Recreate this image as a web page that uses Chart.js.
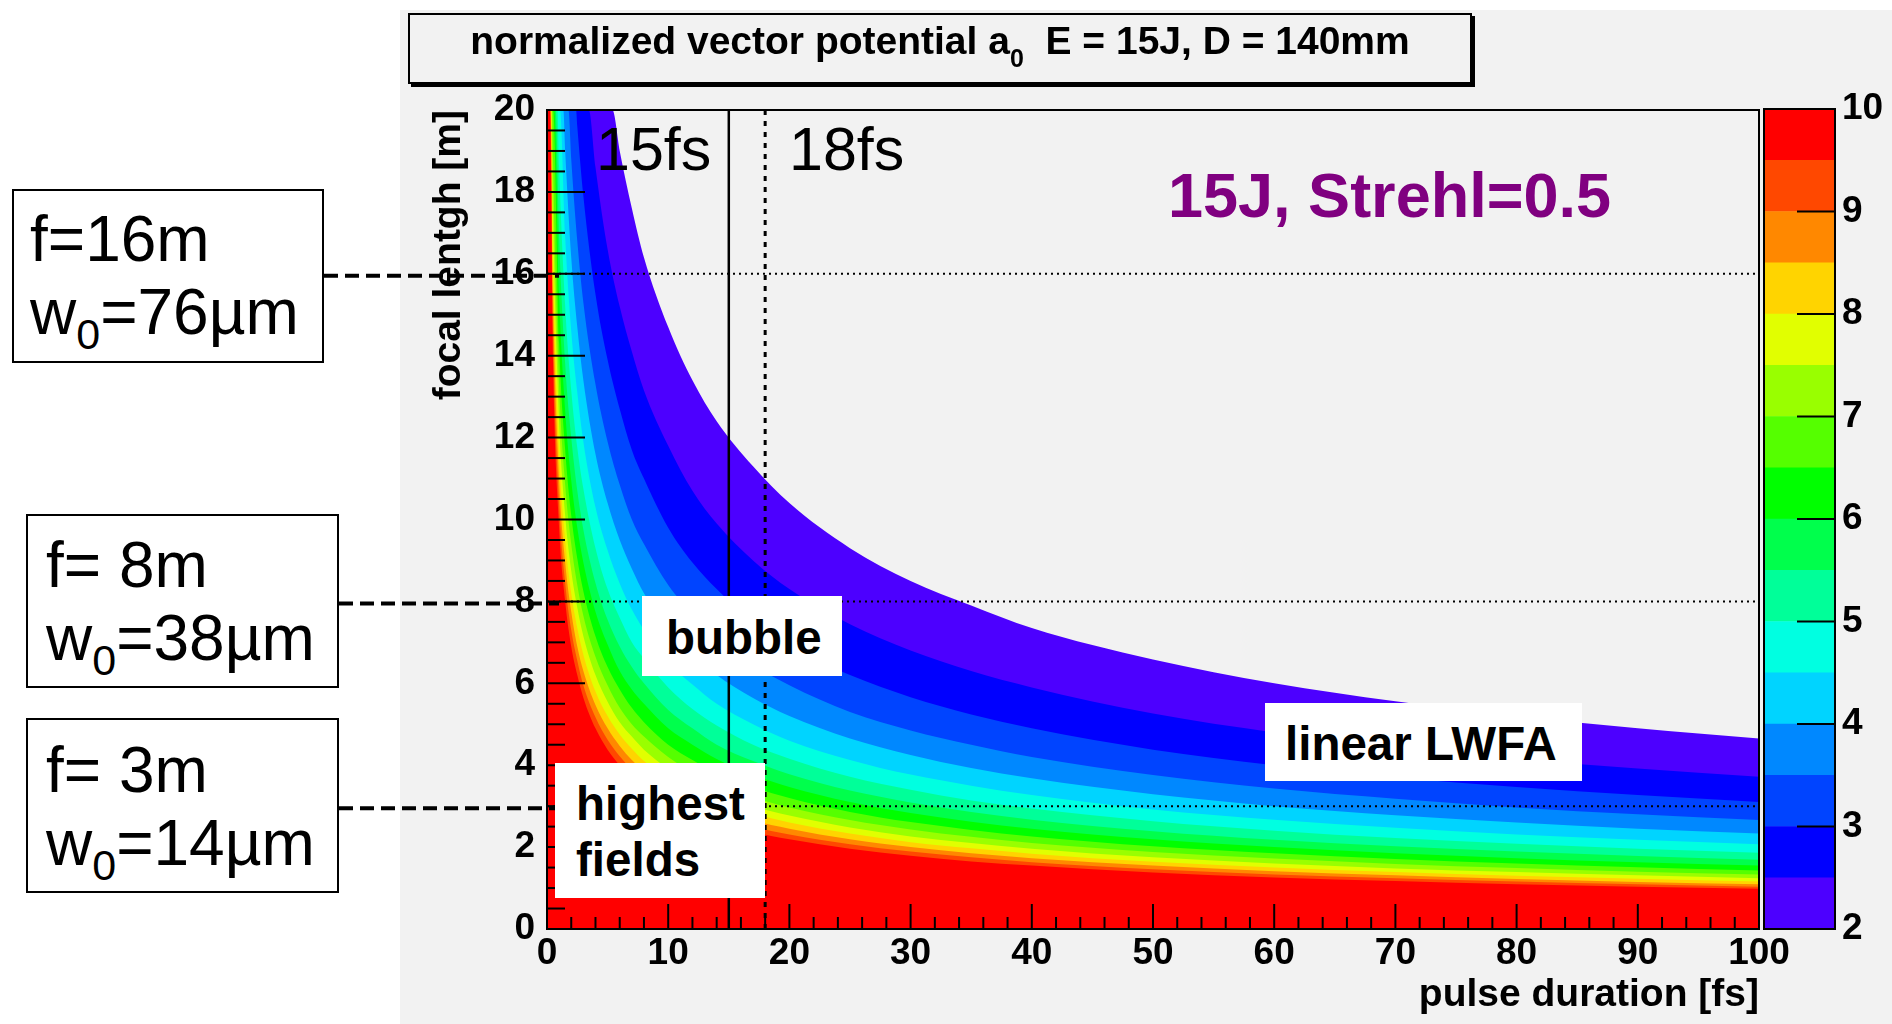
<!DOCTYPE html>
<html>
<head>
<meta charset="utf-8">
<script src="https://cdn.jsdelivr.net/npm/chart.js@4.4.1/dist/chart.umd.min.js"></script>
<style>
html,body{margin:0;padding:0;background:#fff;}
body{width:1892px;height:1024px;position:relative;overflow:hidden;font-family:"Liberation Sans",Arial,sans-serif;}
#pad{position:absolute;left:400px;top:10px;right:0;bottom:0;background:#f2f2f2;}
canvas{position:absolute;top:0;}
#main{left:0;}
#bar{left:1700px;}
.t{position:absolute;line-height:1;white-space:nowrap;color:#000;}
.box{position:absolute;border:2px solid #000;background:#fff;box-sizing:border-box;}
.wb{position:absolute;background:#fff;}
.note{font-size:64px;}
.note sub{font-size:43px;vertical-align:-15px;line-height:0;}
.lbl{font-size:47.5px;font-weight:bold;}
</style>
</head>
<body>
<div id="pad"></div>
<canvas id="main" width="1892" height="1024"></canvas>
<canvas id="bar" width="192" height="1024"></canvas>

<!-- title pave -->
<div class="box" style="left:408px;top:13px;width:1064px;height:71px;background:#f2f2f2;box-shadow:3px 3px 0 #000;"></div>
<div class="t" style="left:408px;width:1064px;top:21px;text-align:center;font-size:39px;font-weight:bold;">normalized vector potential a<sub style="font-size:25px;vertical-align:-13px;line-height:0;">0</sub>&nbsp; E = 15J, D = 140mm</div>

<!-- focal length notes -->
<div class="box" style="left:12px;top:189px;width:312px;height:174px;"></div>
<div class="t note" style="left:30px;top:207px;">f=16m</div>
<div class="t note" style="left:30px;top:280px;">w<sub>0</sub>=76µm</div>

<div class="box" style="left:26px;top:514px;width:313px;height:174px;"></div>
<div class="t note" style="left:46px;top:533px;">f= 8m</div>
<div class="t note" style="left:46px;top:606px;">w<sub>0</sub>=38µm</div>

<div class="box" style="left:26px;top:718px;width:313px;height:175px;"></div>
<div class="t note" style="left:46px;top:738px;">f= 3m</div>
<div class="t note" style="left:46px;top:811px;">w<sub>0</sub>=14µm</div>

<!-- labels inside the frame -->
<div class="t" style="left:596px;top:119px;font-size:61px;">15fs</div>
<div class="t" style="left:789px;top:119px;font-size:61px;">18fs</div>
<div class="t" style="left:1168px;top:164px;font-size:63px;font-weight:bold;color:#800080;">15J, Strehl=0.5</div>

<div class="wb" style="left:642px;top:596px;width:200px;height:80px;"></div>
<div class="t lbl" style="left:666px;top:614px;">bubble</div>

<div class="wb" style="left:555px;top:763px;width:210px;height:135px;"></div>
<div class="t lbl" style="left:576px;top:780px;">highest</div>
<div class="t lbl" style="left:576px;top:836px;">fields</div>

<div class="wb" style="left:1265px;top:703px;width:317px;height:78px;"></div>
<div class="t lbl" style="left:1285px;top:720px;">linear LWFA</div>

<script>
// pulse duration grid [fs]
const tau = [0.5, 1, 1.5, 2, 2.5, 3, 4, 5, 6, 7, 8, 10, 12, 14, 17, 20, 25, 30, 35, 40, 50, 60, 70, 80, 90, 100];

// contour levels of a0 (band edges)
const levels = [2, 2.5, 3, 3.5, 4, 4.5, 5, 5.5, 6, 6.5, 7, 7.5, 8, 8.5, 9, 9.5, 10];
const bandColors = ['#4c00ff','#0000ff','#0044ff','#0088ff','#00d4ff','#00ffe1','#00ff99','#00ff4c',
                    '#00ff00','#55ff00','#99ff00','#e1ff00','#ffd400','#ff8800','#ff4800','#ff0000'];

// where each contour leaves the top of the frame (f = 20 m)
const topTau = [5.4, 3.45, 2.4, 1.77, 1.35, 1.07, 0.86, 0.71, 0.6, 0.51, 0.44, 0.38, 0.34, 0.3, 0.27, 0.24];

// focal length [m] of each contour at the tau grid (null = above the frame)
const a0_2_0 = [null,null,null,null,null,null,null,null,19.0,17.6,16.4,14.7,13.4,12.4,11.3,10.4,9.3,8.5,7.9,7.35,6.58,6.0,5.56,5.2,4.9,4.65];
const a0_2_5 = [null,null,null,null,null,null,18.6,16.6,15.2,14.1,13.15,11.8,10.7,9.9,9.0,8.3,7.44,6.8,6.3,5.9,5.26,4.8,4.45,4.16,3.92,3.72];
const a0_3_0 = [null,null,null,null,19.6,17.9,15.5,13.9,12.7,11.7,11.0,9.8,8.95,8.3,7.5,6.9,6.2,5.66,5.24,4.9,4.38,4.0,3.7,3.47,3.27,3.1];
const a0_3_5 = [null,null,null,18.8,16.8,15.3,13.3,11.9,10.85,10.0,9.4,8.4,7.7,7.1,6.45,5.95,5.3,4.85,4.5,4.2,3.76,3.43,3.18,2.97,2.8,2.66];
const a0_4_0 = [null,null,19.0,16.4,14.7,13.4,11.6,10.4,9.5,8.8,8.2,7.35,6.7,6.2,5.64,5.2,4.65,4.25,3.93,3.68,3.29,3.0,2.78,2.6,2.45,2.33];
const a0_4_5 = [null,null,16.9,14.6,13.1,11.9,10.3,9.25,8.44,7.8,7.3,6.5,5.97,5.5,5.0,4.6,4.13,3.77,3.5,3.27,2.92,2.67,2.47,2.31,2.18,2.07];
const a0_5_0 = [null,18.6,15.2,13.15,11.75,10.75,9.3,8.3,7.6,7.0,6.6,5.9,5.37,4.97,4.5,4.16,3.72,3.4,3.14,2.94,2.63,2.4,2.22,2.08,1.96,1.86];
const a0_5_5 = [null,16.9,13.8,12.0,10.7,9.75,8.45,7.55,6.9,6.4,6.0,5.35,4.9,4.5,4.1,3.78,3.38,3.09,2.86,2.67,2.39,2.18,2.02,1.89,1.78,1.69];
const a0_6_0 = [null,15.5,12.65,10.95,9.8,8.95,7.75,6.95,6.3,5.85,5.5,4.9,4.5,4.15,3.76,3.47,3.1,2.83,2.62,2.45,2.19,2.0,1.85,1.73,1.63,1.55];
const a0_6_5 = [null,14.3,11.7,10.1,9.05,8.25,7.15,6.4,5.85,5.4,5.05,4.5,4.13,3.82,3.47,3.2,2.86,2.61,2.42,2.26,2.02,1.85,1.71,1.6,1.51,1.43];
const a0_7_0 = [18.8,13.3,10.85,9.4,8.4,7.65,6.65,5.95,5.4,5.0,4.7,4.2,3.83,3.55,3.22,2.97,2.66,2.43,2.25,2.1,1.88,1.72,1.59,1.49,1.4,1.33];
const a0_7_5 = [17.5,12.4,10.1,8.75,7.85,7.15,6.2,5.55,5.05,4.7,4.38,3.92,3.58,3.31,3.0,2.77,2.48,2.26,2.1,1.96,1.75,1.6,1.48,1.39,1.31,1.24];
const a0_8_0 = [16.4,11.6,9.5,8.2,7.35,6.7,5.8,5.2,4.75,4.4,4.1,3.68,3.36,3.1,2.82,2.6,2.33,2.12,1.97,1.84,1.64,1.5,1.39,1.3,1.23,1.16];
const a0_8_5 = [15.5,10.95,8.95,7.75,6.9,6.3,5.47,4.9,4.47,4.13,3.87,3.46,3.16,2.92,2.65,2.45,2.19,2.0,1.85,1.73,1.55,1.41,1.31,1.22,1.15,1.09];
const a0_9_0 = [14.6,10.35,8.45,7.3,6.55,5.95,5.17,4.62,4.22,3.9,3.65,3.27,2.98,2.76,2.5,2.31,2.07,1.89,1.75,1.63,1.46,1.33,1.24,1.16,1.09,1.03];
const a0_9_5 = [13.85,9.8,8.0,6.9,6.2,5.65,4.9,4.38,4.0,3.7,3.46,3.1,2.83,2.62,2.37,2.19,1.96,1.79,1.65,1.55,1.38,1.26,1.17,1.09,1.03,0.98];

const tauTicks = [0, 10, 20, 30, 40, 50, 60, 70, 80, 90, 100];
const fTicks = [0, 2, 4, 6, 8, 10, 12, 14, 16, 18, 20];
const barTicks = [2, 3, 4, 5, 6, 7, 8, 9, 10];

// marker lines
const markF = [16, 8, 3];
const markTau = [15, 18];
const noteRight = [324, 339, 339];

Chart.defaults.font.family = '"Liberation Sans", Arial, sans-serif';
Chart.defaults.color = '#000';

const curves = [a0_2_0, a0_2_5, a0_3_0, a0_3_5, a0_4_0, a0_4_5, a0_5_0, a0_5_5,
                a0_6_0, a0_6_5, a0_7_0, a0_7_5, a0_8_0, a0_8_5, a0_9_0, a0_9_5];

const datasets = curves.map((fv, i) => {
  const pts = [{x: 0, y: 20}, {x: topTau[i], y: 20}];
  tau.forEach((t, j) => { if (fv[j] !== null) pts.push({x: t, y: fv[j]}); });
  return {
    label: 'a0 > ' + levels[i],
    data: pts,
    backgroundColor: bandColors[i],
    borderColor: 'rgba(0,0,0,0)',
    borderWidth: 0,
    pointRadius: 0,
    fill: 'origin',
    cubicInterpolationMode: 'monotone',
    order: curves.length - i
  };
});

const lines = {
  id: 'lines',
  afterDatasetsDraw(chart) {
    const {ctx, chartArea: a, scales: {x, y}} = chart;
    ctx.save();
    ctx.strokeStyle = '#000';
    // dotted horizontal guides
    ctx.lineWidth = 2;
    ctx.setLineDash([2, 4]);
    markF.forEach(v => {
      const py = y.getPixelForValue(v);
      ctx.beginPath(); ctx.moveTo(a.left, py); ctx.lineTo(a.right, py); ctx.stroke();
    });
    // 15 fs solid, 18 fs dotted
    let px = x.getPixelForValue(markTau[0]);
    ctx.setLineDash([]);
    ctx.lineWidth = 2.5;
    ctx.beginPath(); ctx.moveTo(px, a.top); ctx.lineTo(px, a.bottom); ctx.stroke();
    px = x.getPixelForValue(markTau[1]);
    ctx.lineWidth = 3;
    ctx.setLineDash([5, 6]);
    ctx.beginPath(); ctx.moveTo(px, a.top); ctx.lineTo(px, a.bottom); ctx.stroke();
    ctx.setLineDash([]);
    // inward ticks
    ctx.lineWidth = 2;
    for (let v = 0; v <= 100; v += 2) {
      const p = x.getPixelForValue(v);
      const len = v % 10 === 0 ? 25 : 12;
      ctx.beginPath(); ctx.moveTo(p, a.bottom); ctx.lineTo(p, a.bottom - len); ctx.stroke();
    }
    for (let v = 0; v <= 20; v += 0.5) {
      const p = y.getPixelForValue(v);
      const len = v % 2 === 0 ? 38 : 18;
      ctx.beginPath(); ctx.moveTo(a.left, p); ctx.lineTo(a.left + len, p); ctx.stroke();
    }
    // frame
    ctx.strokeRect(a.left, a.top, a.right - a.left, a.bottom - a.top);
    ctx.restore();
  },
  afterDraw(chart) {
    const {ctx, chartArea: a, scales: {y}} = chart;
    ctx.save();
    ctx.strokeStyle = '#000';
    ctx.lineWidth = 4;
    ctx.setLineDash([14, 7]);
    markF.forEach((v, i) => {
      const py = y.getPixelForValue(v) + 2;
      ctx.beginPath(); ctx.moveTo(noteRight[i], py); ctx.lineTo(a.left + 12, py); ctx.stroke();
    });
    ctx.restore();
  }
};

new Chart(document.getElementById('main'), {
  type: 'line',
  data: {datasets: datasets},
  options: {
    responsive: false,
    animation: false,
    events: [],
    layout: {padding: {left: 397, right: 133, top: 110, bottom: 0}},
    plugins: {legend: {display: false}, tooltip: {enabled: false}},
    scales: {
      x: {
        type: 'linear', min: 0, max: 100,
        afterFit: s => { s.height = 95; },
        afterBuildTicks: s => { s.ticks = tauTicks.map(v => ({value: v})); },
        grid: {display: false, drawTicks: false},
        border: {display: false},
        ticks: {autoSkip: false, maxRotation: 0, padding: 3, font: {size: 37, weight: 'bold'}},
        title: {display: true, text: 'pulse duration [fs]', align: 'end', padding: {top: 0, bottom: 5},
                font: {size: 39, weight: 'bold'}}
      },
      y: {
        type: 'linear', min: 0, max: 20,
        afterFit: s => { s.width = 150; },
        afterBuildTicks: s => { s.ticks = fTicks.map(v => ({value: v})); },
        grid: {display: false, drawTicks: false},
        border: {display: false},
        ticks: {autoSkip: false, padding: 12, font: {size: 37, weight: 'bold'}},
        title: {display: true, text: 'focal lentgh [m]', align: 'end', padding: {top: 29, bottom: 0},
                font: {size: 39, weight: 'bold'}}
      }
    }
  },
  plugins: [lines]
});

// colour scale
const barFrame = {
  id: 'barFrame',
  afterDatasetsDraw(chart) {
    const {ctx, chartArea: a, scales: {y}} = chart;
    ctx.save();
    ctx.strokeStyle = '#000';
    ctx.lineWidth = 2;
    barTicks.forEach(v => {
      const p = y.getPixelForValue(v);
      ctx.beginPath(); ctx.moveTo(a.right, p); ctx.lineTo(a.right - 38, p); ctx.stroke();
    });
    ctx.strokeRect(a.left, a.top, a.right - a.left, a.bottom - a.top);
    ctx.restore();
  }
};

new Chart(document.getElementById('bar'), {
  type: 'bar',
  data: {
    labels: ['a0'],
    datasets: bandColors.map((c, i) => ({
      data: [[levels[i], levels[i + 1]]],
      backgroundColor: c,
      borderWidth: 0,
      grouped: false,
      barPercentage: 1,
      categoryPercentage: 1
    }))
  },
  options: {
    responsive: false,
    animation: false,
    events: [],
    layout: {padding: {left: 64, right: 0, top: 109, bottom: 95}},
    plugins: {legend: {display: false}, tooltip: {enabled: false}},
    scales: {
      x: {display: false},
      y: {
        position: 'right', min: 2, max: 10,
        afterFit: s => { s.width = 57; },
        afterBuildTicks: s => { s.ticks = barTicks.map(v => ({value: v})); },
        grid: {display: false, drawTicks: false},
        border: {display: false},
        ticks: {autoSkip: false, padding: 7, font: {size: 37, weight: 'bold'}}
      }
    }
  },
  plugins: [barFrame]
});
</script>
</body>
</html>
